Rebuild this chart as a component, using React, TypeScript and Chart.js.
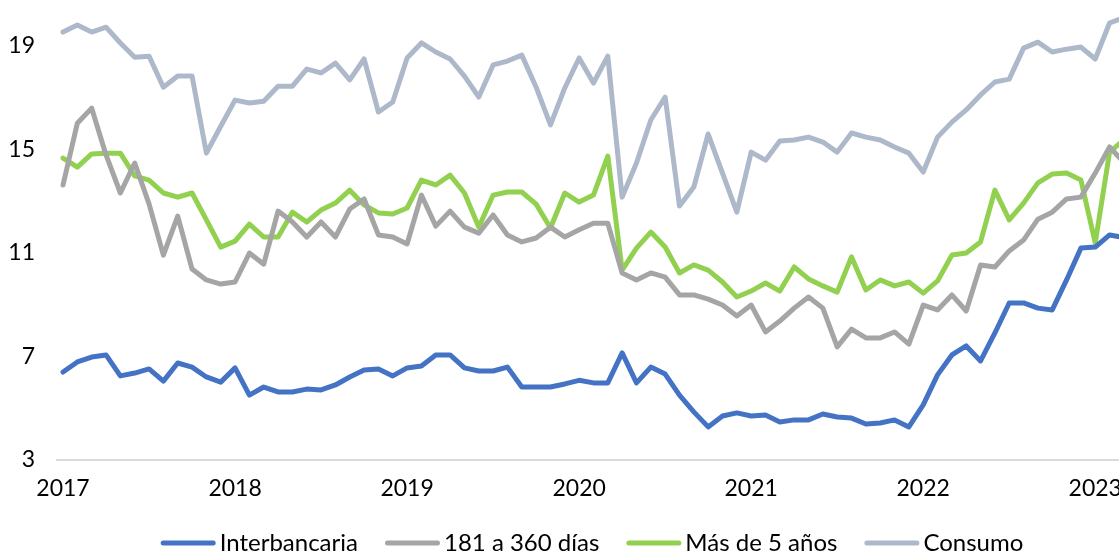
import React, { useEffect, useRef } from "react";
import { Chart, registerables } from "chart.js";
Chart.register(...registerables);

const yearLabels = ["2017", "2018", "2019", "2020", "2021", "2022", "2023"];
const yTickValues = [3, 7, 11, 15, 19];

const interbancaria = [
  6.40, 6.79, 6.98, 7.06, 6.25, 6.36, 6.52, 6.05, 6.75, 6.59, 6.21, 6.01,
  6.56, 5.51, 5.82, 5.63, 5.63, 5.74, 5.71, 5.90, 6.21, 6.48, 6.52, 6.25,
  6.56, 6.63, 7.06, 7.06, 6.56, 6.44, 6.44, 6.59, 5.82, 5.82, 5.82, 5.94,
  6.08, 5.98, 5.98, 7.14, 5.98, 6.59, 6.32, 5.51, 4.86, 4.28, 4.70, 4.82,
  4.70, 4.74, 4.47, 4.55, 4.55, 4.78, 4.66, 4.62, 4.39, 4.43, 4.55, 4.28,
  5.13, 6.29, 7.06, 7.41, 6.83, 7.91, 9.07, 9.07, 8.87, 8.80, 9.96, 11.19,
  11.23, 11.70, 11.60,
];

const dias181a360 = [
  13.63, 16.02, 16.60, 14.79, 13.32, 14.48, 12.90, 10.92, 12.43, 10.38, 9.96, 9.80,
  9.88, 11.00, 10.57, 12.62, 12.20, 11.62, 12.20, 11.62, 12.70, 13.09, 11.70, 11.62,
  11.35, 13.24, 12.04, 12.62, 12.00, 11.77, 12.47, 11.70, 11.43, 11.58, 12.00, 11.62,
  11.90, 12.15, 12.15, 10.23, 9.96, 10.23, 10.07, 9.38, 9.38, 9.22, 8.99, 8.57,
  8.99, 7.95, 8.37, 8.87, 9.30, 8.87, 7.37, 8.06, 7.72, 7.72, 7.95, 7.48,
  8.99, 8.80, 9.38, 8.76, 10.54, 10.46, 11.08, 11.50, 12.31, 12.58, 13.09, 13.16,
  14.09, 15.10, 14.50,
];

const masDe5Anos = [
  14.67, 14.32, 14.83, 14.86, 14.86, 13.98, 13.82, 13.32, 13.16, 13.32, 12.28, 11.23,
  11.46, 12.12, 11.62, 11.62, 12.58, 12.20, 12.66, 12.93, 13.43, 12.86, 12.55, 12.51,
  12.74, 13.82, 13.63, 14.01, 13.32, 12.00, 13.24, 13.36, 13.36, 12.89, 11.97, 13.32,
  12.97, 13.24, 14.75, 10.34, 11.19, 11.81, 11.23, 10.23, 10.54, 10.34, 9.88, 9.30,
  9.53, 9.84, 9.53, 10.46, 10.00, 9.73, 9.49, 10.85, 9.57, 9.96, 9.73, 9.88,
  9.45, 9.92, 10.92, 11.00, 11.43, 13.43, 12.28, 12.93, 13.71, 14.05, 14.09, 13.82,
  11.39, 14.90, 15.37,
];

const consumo = [
  19.54, 19.81, 19.54, 19.73, 19.12, 18.57, 18.61, 17.41, 17.84, 17.84, 14.86, 15.90,
  16.91, 16.80, 16.87, 17.45, 17.45, 18.11, 17.96, 18.34, 17.69, 18.50, 16.45, 16.84,
  18.54, 19.12, 18.77, 18.50, 17.84, 17.03, 18.27, 18.42, 18.65, 17.41, 15.95, 17.38,
  18.54, 17.57, 18.61, 13.16, 14.48, 16.14, 17.03, 12.82, 13.55, 15.60, 14.09, 12.58,
  14.90, 14.59, 15.33, 15.37, 15.48, 15.29, 14.90, 15.64, 15.48, 15.37, 15.10, 14.86,
  14.13, 15.48, 16.06, 16.53, 17.11, 17.61, 17.72, 18.92, 19.15, 18.77, 18.88, 18.96,
  18.50, 19.89, 20.10,
];

const seriesNames = ["Interbancaria", "181 a 360 días", "Más de 5 años", "Consumo"];
const seriesColors = ["#4472c4", "#a5a5a5", "#92d050", "#adb9ca"];

const FAMILY = "Lato, 'Open Sans', sans-serif";
const TICK_FONT = { family: FAMILY, size: 23 };
const LEGEND_FONT_SIZE = 24;

// Legend drawn on the canvas with Excel-like spacing
const lineLegend = {
  id: "lineLegend",
  afterDraw(chart: any) {
    const ctx = chart.ctx;
    const items = chart.data.datasets.map((d: any) => ({
      text: d.label as string,
      color: d.borderColor as string,
    }));
    const boxW = 55;
    const gap = 4;
    const between = 27;
    ctx.save();
    ctx.font = `${LEGEND_FONT_SIZE}px ${FAMILY}`;
    const widths = items.map((it: any) => boxW + gap + ctx.measureText(it.text).width);
    const total = widths.reduce((a: number, b: number) => a + b, 0) + between * (items.length - 1);
    const centerX = 592;
    const cy = 543;
    let x = centerX - total / 2;
    items.forEach((it: any, i: number) => {
      ctx.strokeStyle = it.color;
      ctx.lineWidth = 5;
      ctx.lineCap = "round";
      ctx.beginPath();
      ctx.moveTo(x + 2.5, cy);
      ctx.lineTo(x + boxW - 2.5, cy);
      ctx.stroke();
      ctx.fillStyle = "#000";
      ctx.textBaseline = "middle";
      ctx.textAlign = "left";
      ctx.fillText(it.text, x + boxW + gap, cy);
      x += widths[i] + between;
    });
    ctx.restore();
  },
};

export default function App() {
  const ref = useRef<HTMLCanvasElement>(null);
  useEffect(() => {
    if (!ref.current) return;
    const toPts = (arr: number[]) => arr.map((v, i) => ({ x: i, y: v }));
    const allSeries = [interbancaria, dias181a360, masDe5Anos, consumo];
    const chart = new Chart(ref.current, {
      type: "line",
      data: {
        datasets: allSeries.map((s, k) => ({
          label: seriesNames[k],
          data: toPts(s),
          borderColor: seriesColors[k],
          backgroundColor: seriesColors[k],
          borderWidth: 5,
          fill: false,
          pointRadius: 0,
          tension: 0,
          borderJoinStyle: "round" as const,
          borderCapStyle: "round" as const,
        })),
      },
      plugins: [lineLegend],
      options: {
        animation: false,
        responsive: false,
        maintainAspectRatio: false,
        layout: { padding: { left: 0, right: 0, top: 0, bottom: 40 } },
        scales: {
          x: {
            type: "linear",
            bounds: "data",
            min: -0.42,
            max: 78.4,
            grid: { display: false, drawTicks: false },
            border: { display: true, color: "#d9d9d9", width: 2 },
            afterBuildTicks: (s: any) => {
              s.ticks = yearLabels.map((_, k) => ({ value: k * 12 }));
            },
            afterFit: (s: any) => {
              s.height = 63;
              s.paddingLeft = 0;
              s.paddingRight = 0;
            },
            ticks: {
              autoSkip: false,
              maxRotation: 0,
              padding: 15,
              color: "#000",
              font: TICK_FONT,
              callback: (v: any) => yearLabels[Math.round(Number(v) / 12)] ?? "",
            },
          },
          y: {
            bounds: "data",
            min: 3,
            max: 20.78,
            grid: { display: false, drawTicks: false },
            border: { display: false },
            afterBuildTicks: (s: any) => {
              s.ticks = yTickValues.map((v) => ({ value: v }));
            },
            afterFit: (s: any) => {
              s.width = 57;
              s.paddingTop = 0;
              s.paddingBottom = 0;
            },
            ticks: { padding: 22, color: "#000", font: TICK_FONT },
          },
        },
        plugins: {
          legend: { display: false },
          tooltip: { enabled: false },
        },
      } as any,
    });
    return () => chart.destroy();
  }, []);
  return (
    <div
      style={{
        position: "fixed",
        left: 0,
        top: 0,
        width: 1119,
        height: 552,
        overflow: "hidden",
        background: "#fff",
      }}
    >
      <canvas
        ref={ref}
        width={1187}
        height={563}
        style={{ display: "block", width: 1187, height: 563 }}
      />
    </div>
  );
}
